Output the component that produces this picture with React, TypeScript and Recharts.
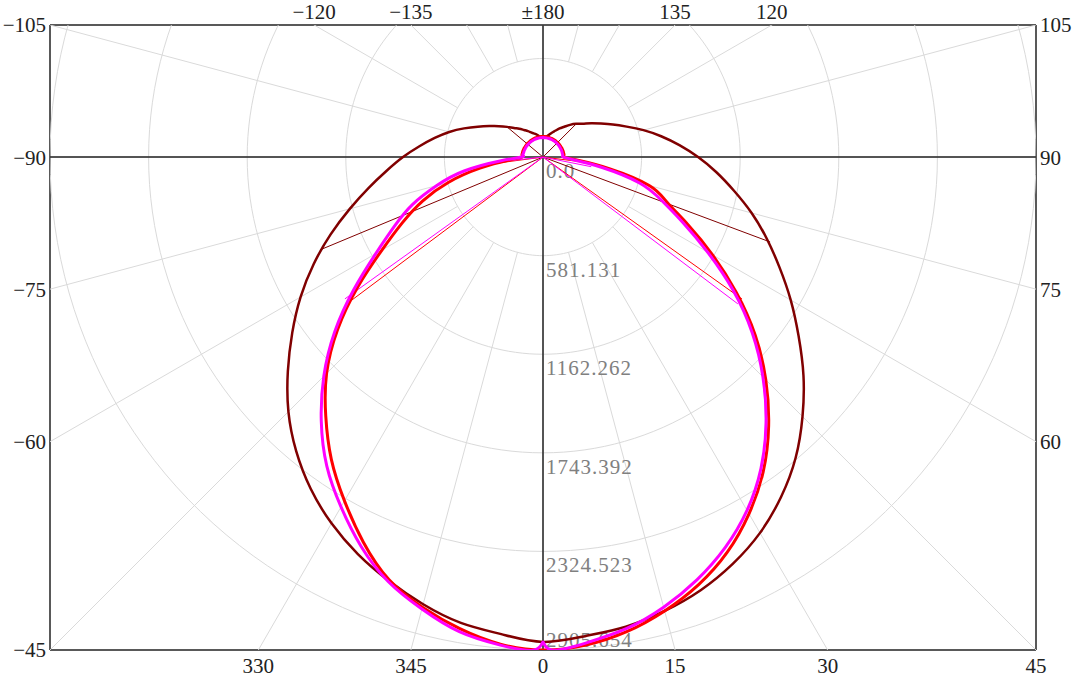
import React from 'react';
import { ScatterChart, Scatter, XAxis, YAxis } from 'recharts';

// ---------- data ----------
const R_MAX = 2905.654;
const RING_VALUES = [0, 581.131, 1162.262, 1743.392, 2324.523, 2905.654];
const RING_LABELS = ['0.0', '581.131', '1162.262', '1743.392', '2324.523', '2905.654'];

const SPOKE_STEP_ANGLES = [0, 15, 30, 45, 60, 75, 90, 105, 120, 135, 150, 165, 180, 195, 210, 225, 240, 255, 270, 285, 300, 315, 330, 345];

const BOTTOM_TICK_ANGLES = [-30, -15, 0, 15, 30, 45];
const BOTTOM_TICK_LABELS = ['330', '345', '0', '15', '30', '45'];
const TOP_TICK_ANGLES = [-120, -135, 180, 135, 120];
const TOP_TICK_LABELS = ['\u2212120', '\u2212135', '\u00b1180', '135', '120'];
const LEFT_TICK_ANGLES = [-105, -90, -75, -60, -45];
const LEFT_TICK_LABELS = ['\u2212105', '\u221290', '\u221275', '\u221260', '\u221245'];
const RIGHT_TICK_ANGLES = [105, 90, 75, 60];
const RIGHT_TICK_LABELS = ['105', '90', '75', '60'];

const ANGLES = [
  -180, -175, -170, -165, -160, -155, -150, -145, -140, -135, -130, -125, -120, -115, -110, -105, -100, -95,
  -90, -85, -80, -75, -70, -65, -60, -55, -50, -45, -40, -35, -30, -25, -20, -15, -10, -5,
  0,
  5, 10, 15, 20, 25, 30, 35, 40, 45, 50, 55, 60, 65, 70, 75, 80, 85, 90,
  95, 100, 105, 110, 115, 120, 125, 130, 135, 140, 145, 150, 155, 160, 165, 170, 175, 180,
];

const MAGENTA_ANGLES = [
  -180, -175, -170, -165, -160, -155, -150, -145, -140, -135, -130, -125, -120, -115, -110, -105, -100, -95,
  -90, -85, -80, -75, -70, -65, -60, -55, -50, -45, -40, -35, -30, -25, -20, -15, -10, -5,
  -1, 0, 1,
  5, 10, 15, 20, 25, 30, 35, 40, 45, 50, 55, 60, 65, 70, 75, 80, 85, 90,
  95, 100, 105, 110, 115, 120, 125, 130, 135, 140, 145, 150, 155, 160, 165, 170, 175, 180,
];

const DARK_RED_VALUES = [
  112, 118, 124, 136, 147, 159, 177, 195, 218, 242, 277, 318, 365, 424, 495, 572, 648, 731,
  825, 925, 1043, 1179, 1332, 1491, 1650, 1804, 1963, 2122, 2263, 2387, 2493, 2582, 2658, 2729, 2788, 2823,
  2858,
  2835, 2811, 2770, 2717, 2646, 2558, 2446, 2316, 2163, 2004, 1839, 1686, 1538, 1403, 1273, 1143, 1026, 914,
  807, 707, 613, 525, 454, 395, 348, 306, 277, 248, 218, 195, 171, 153, 136, 124, 118, 112,
];

const RED_VALUES = [
  122, 122, 122, 121, 121, 121, 121, 121, 121, 121, 122, 122, 122, 123, 123, 124, 124, 124,
  124, 200, 377, 578, 754, 914, 1096, 1332, 1580, 1804, 1992, 2175, 2340, 2505, 2652, 2747, 2823, 2882,
  2906,
  2888, 2841, 2770, 2682, 2570, 2428, 2263, 2069, 1857, 1633, 1391, 1155, 943, 778, 648, 401, 200, 124,
  124, 124, 124, 123, 123, 122, 122, 122, 121, 121, 121, 121, 121, 121, 122, 122, 122, 122,
];

const MAGENTA_VALUES = [
  115, 115, 115, 115, 115, 115, 115, 115, 115, 115, 115, 116, 116, 116, 117, 117, 118, 119,
  124, 248, 472, 648, 819, 967, 1138, 1361, 1603, 1827, 2033, 2222, 2381, 2534, 2664, 2758, 2841, 2888,
  2906, 2858, 2906,
  2876, 2823, 2747, 2652, 2540, 2405, 2240, 2045, 1833, 1609, 1367, 1120, 908, 743, 589, 354, 177, 118,
  117, 116, 116, 116, 115, 115, 115, 115, 115, 115, 115, 115, 115, 115, 115, 115, 115, 115,
];

// beam marker lines (angle, intensity) from the centre
const DARK_RED_MARK_ANGLES = [-130, -67.4, 69.5, 135];
const DARK_RED_MARK_VALUES = [280, 1424, 1429, 283];
const RED_MARK_ANGLES = [-82.5, -53.2, 54.5, 83];
const RED_MARK_VALUES = [290, 1436, 1441, 290];
const MAGENTA_MARK_ANGLES = [-83.9, -54.4, 53, 78.7];
const MAGENTA_MARK_VALUES = [290, 1436, 1438, 290];

// ---------- geometry helpers ----------
const DEG = Math.PI / 180;
const pt = (a: number, r: number) => ({ x: r * Math.sin(a * DEG), y: -r * Math.cos(a * DEG) });
const polarSeries = (angles: number[], values: number[]) => angles.map((a, i) => pt(a, values[i]));

const Y_TOP = R_MAX * Math.tan(15 * DEG);

const bottomTicks = BOTTOM_TICK_ANGLES.map((a) => R_MAX * Math.tan(a * DEG));
const topTicks = TOP_TICK_ANGLES.map((a) => (a === 180 ? 0 : -Y_TOP * Math.tan(a * DEG)));
const leftTicks = LEFT_TICK_ANGLES.map((a) => -R_MAX * Math.cos(a * DEG) / Math.abs(Math.sin(a * DEG)));
const rightTicks = RIGHT_TICK_ANGLES.map((a) => -R_MAX * Math.cos(a * DEG) / Math.abs(Math.sin(a * DEG)));

const fmt = (ticks: number[], labels: string[]) => (v: number) => {
  const i = ticks.findIndex((t) => Math.abs(t - v) < 1e-6);
  return i >= 0 ? labels[i] : '';
};

const ringCircle = (r: number) => {
  const pts: { x: number; y: number }[] = [];
  for (let a = 0; a <= 360; a += 2) pts.push(pt(a, r));
  return pts;
};

const GRID = '#dadada';
const AXIS_FONT = { fontSize: 21, fill: '#222', fontFamily: '"Liberation Serif", serif' };
const AXIS_LINE = { stroke: '#222', strokeWidth: 1.5 };

const Empty = () => <g />;

const RingLabel = (props: any) => {
  const { cx, cy, payload } = props;
  const last = payload.idx === RING_VALUES.length - 1;
  return (
    <text
      x={cx + 3}
      y={last ? cy - 3 : cy + 21}
      fill="#808080"
      fontSize={21}
      letterSpacing={1}
      fontFamily='"Liberation Serif", serif'
    >
      {payload.label}
    </text>
  );
};

export default function App() {
  const rings = RING_VALUES.slice(1).map((r) => ringCircle(r));
  const spokes = SPOKE_STEP_ANGLES.map((a) => [pt(a, RING_VALUES[1]), pt(a, R_MAX * 3)]);
  const labelPts = RING_VALUES.map((r, i) => ({ ...pt(0, r), label: RING_LABELS[i], idx: i }));
  const marks = (angles: number[], values: number[]) => angles.map((a, i) => [pt(a, 0), pt(a, values[i])]);

  const common = { xAxisId: 'b', yAxisId: 'l', isAnimationActive: false, shape: Empty } as any;

  return (
    <div style={{ position: 'absolute', left: 0, top: 0 }}>
      <ScatterChart width={1073} height={677} margin={{ top: 0, right: 0, bottom: 0, left: 0 }}>
        <XAxis
          xAxisId="b"
          type="number"
          dataKey="x"
          orientation="bottom"
          domain={[-R_MAX, R_MAX]}
          allowDataOverflow
          ticks={bottomTicks}
          interval={0}
          tickFormatter={fmt(bottomTicks, BOTTOM_TICK_LABELS)}
          height={27}
          tickLine={false}
          tickSize={6}
          axisLine={AXIS_LINE}
          tick={AXIS_FONT}
        />
        <XAxis
          xAxisId="t"
          type="number"
          dataKey="x"
          orientation="top"
          domain={[-R_MAX, R_MAX]}
          allowDataOverflow
          ticks={topTicks}
          interval={0}
          tickFormatter={fmt(topTicks, TOP_TICK_LABELS)}
          height={25}
          tickLine={false}
          tickSize={4}
          axisLine={AXIS_LINE}
          tick={AXIS_FONT}
        />
        <YAxis
          yAxisId="l"
          type="number"
          dataKey="y"
          orientation="left"
          domain={[-R_MAX, Y_TOP]}
          allowDataOverflow
          ticks={leftTicks}
          interval={0}
          tickFormatter={fmt(leftTicks, LEFT_TICK_LABELS)}
          width={50}
          tickLine={false}
          tickSize={2}
          axisLine={AXIS_LINE}
          tick={AXIS_FONT}
        />
        <YAxis
          yAxisId="r"
          type="number"
          dataKey="y"
          orientation="right"
          domain={[-R_MAX, Y_TOP]}
          allowDataOverflow
          ticks={rightTicks}
          interval={0}
          tickFormatter={fmt(rightTicks, RIGHT_TICK_LABELS)}
          width={37}
          tickLine={false}
          tickSize={2}
          axisLine={AXIS_LINE}
          tick={AXIS_FONT}
        />

        {rings.map((d, i) => (
          <Scatter key={'ring' + i} {...common} data={d} line={{ stroke: GRID, strokeWidth: 1 }} />
        ))}
        {spokes.map((d, i) => (
          <Scatter key={'spoke' + i} {...common} data={d} line={{ stroke: GRID, strokeWidth: 1 }} />
        ))}
        <Scatter {...common} data={[{ x: -R_MAX, y: 0 }, { x: R_MAX, y: 0 }]} line={{ stroke: '#222', strokeWidth: 1.5 }} />
        <Scatter {...common} data={[{ x: 0, y: -R_MAX }, { x: 0, y: Y_TOP }]} line={{ stroke: '#222', strokeWidth: 1.5 }} />

        <Scatter xAxisId="b" yAxisId="l" isAnimationActive={false} data={labelPts} shape={RingLabel} />

        {marks(DARK_RED_MARK_ANGLES, DARK_RED_MARK_VALUES).map((d, i) => (
          <Scatter key={'dm' + i} {...common} data={d} line={{ stroke: '#800000', strokeWidth: 1 }} />
        ))}
        {marks(RED_MARK_ANGLES, RED_MARK_VALUES).map((d, i) => (
          <Scatter key={'rm' + i} {...common} data={d} line={{ stroke: '#ff0000', strokeWidth: 1 }} />
        ))}
        {marks(MAGENTA_MARK_ANGLES, MAGENTA_MARK_VALUES).map((d, i) => (
          <Scatter key={'mm' + i} {...common} data={d} line={{ stroke: '#ff00ff', strokeWidth: 1 }} />
        ))}

        <Scatter {...common} lineJointType="natural" data={polarSeries(ANGLES, DARK_RED_VALUES)} line={{ stroke: '#800000', strokeWidth: 2.5 }} />
        <Scatter {...common} lineJointType="natural" data={polarSeries(ANGLES, RED_VALUES)} line={{ stroke: '#ff0000', strokeWidth: 3 }} />
        <Scatter {...common} lineJointType="natural" data={polarSeries(MAGENTA_ANGLES, MAGENTA_VALUES)} line={{ stroke: '#ff00ff', strokeWidth: 3 }} />
      </ScatterChart>
    </div>
  );
}
